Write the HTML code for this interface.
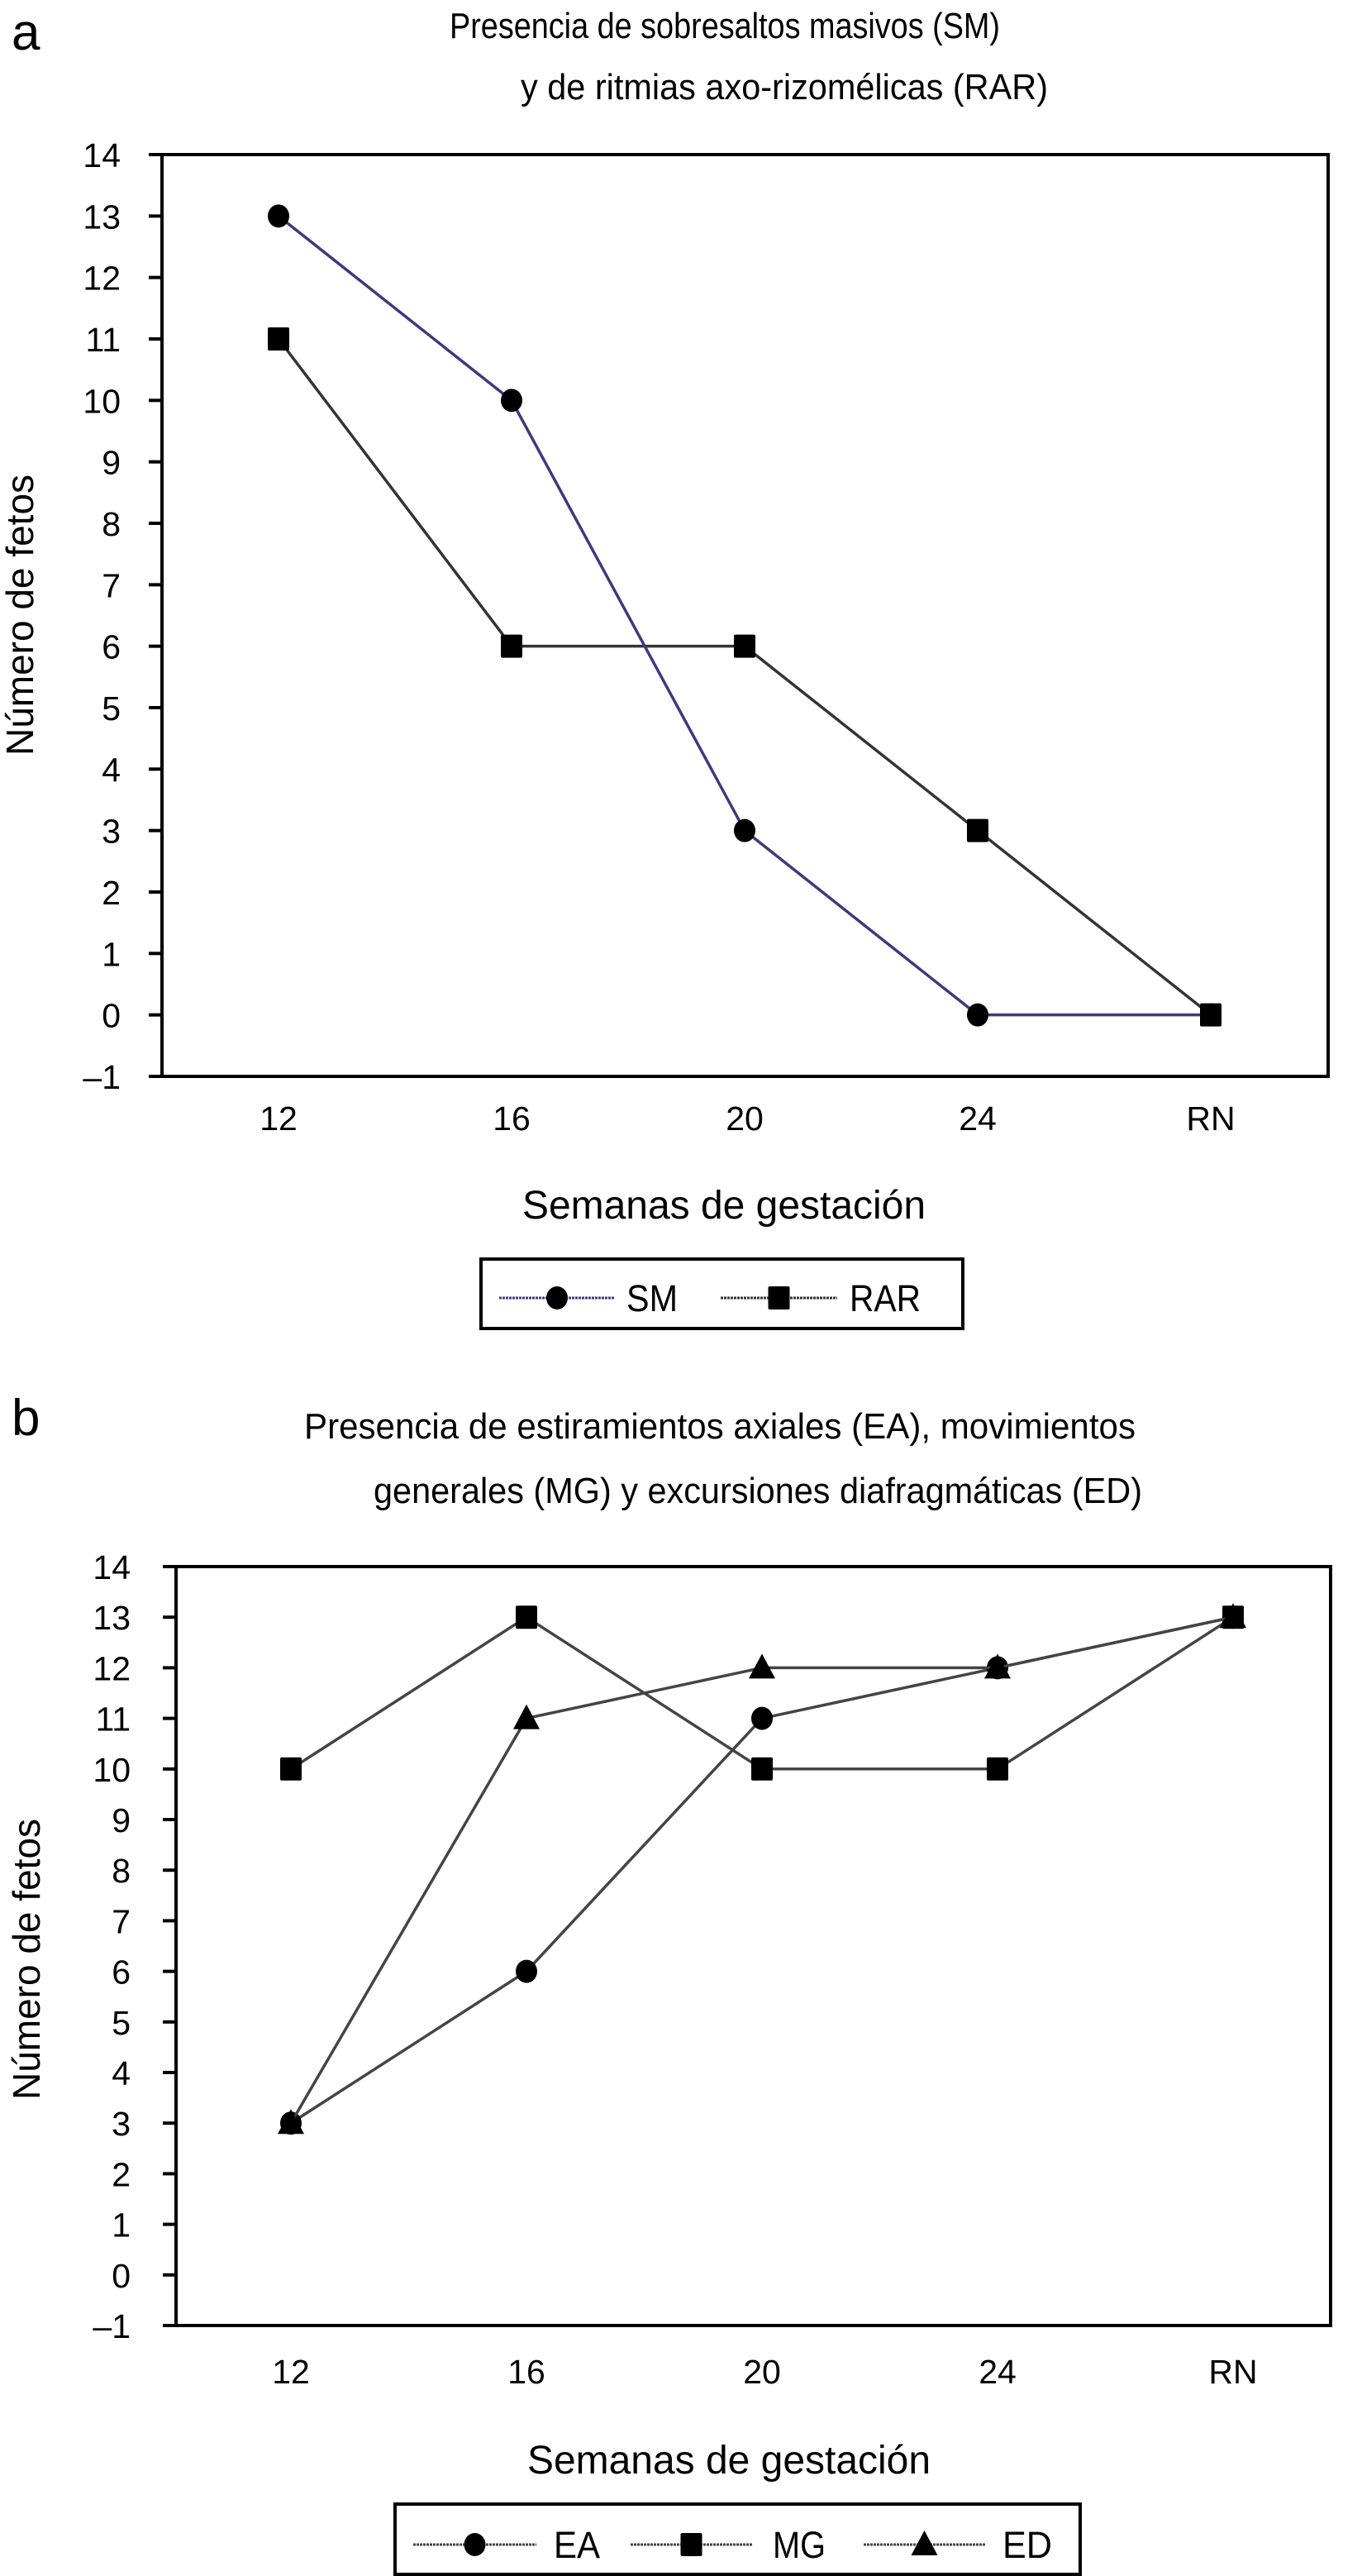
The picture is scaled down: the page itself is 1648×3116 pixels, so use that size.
<!DOCTYPE html>
<html><head><meta charset="utf-8"><style>
html,body{margin:0;padding:0;background:#fff}
svg{display:block}
text{font-family:"Liberation Sans",sans-serif;fill:#000}
</style></head><body>
<svg id="s" width="1648" height="3116" viewBox="0 0 1648 3116" xmlns="http://www.w3.org/2000/svg">
<text x="14" y="60" font-size="62">a</text>
<text x="544" y="46" font-size="44" textLength="666" lengthAdjust="spacingAndGlyphs">Presencia de sobresaltos masivos (SM)</text>
<text x="630" y="120" font-size="44" textLength="638" lengthAdjust="spacingAndGlyphs">y de ritmias axo-rizomélicas (RAR)</text>
<text x="14" y="1736" font-size="62">b</text>
<text x="368" y="1740" font-size="44" textLength="1006" lengthAdjust="spacingAndGlyphs">Presencia de estiramientos axiales (EA), movimientos</text>
<text x="452" y="1818" font-size="44" textLength="930" lengthAdjust="spacingAndGlyphs">generales (MG) y excursiones diafragmáticas (ED)</text>
<g id="ga"></g><g id="gb"></g>
</svg>
<script>
const categories = ["12","16","20","24","RN"];
const yTicks = [14,13,12,11,10,9,8,7,6,5,4,3,2,1,0,-1];
const smValues = [13,10,3,0,0];
const rarValues = [11,6,6,3,0];
const eaValues = [3,6,11,12,13];
const mgValues = [10,13,10,10,13];
const edValues = [3,11,12,12,13];

const NS="http://www.w3.org/2000/svg";
function mk(parent,tag,attrs){const e=document.createElementNS(NS,tag);for(const k in attrs)e.setAttribute(k,attrs[k]);parent.appendChild(e);return e;}

function drawChart(g,cfg){
  const yS=v=>cfg.top+(14-v)*(cfg.bottom-cfg.top)/15;
  const xS=i=>cfg.x0+i*cfg.step;
  const box=mk(g,'rect',{x:cfg.left,y:cfg.top,width:cfg.right-cfg.left,height:cfg.bottom-cfg.top,fill:'none',stroke:'#000','stroke-width':4});
  
  
  yTicks.forEach(v=>{
    const t=mk(g,'line',{x1:cfg.left-16,x2:cfg.left,y1:yS(v),y2:yS(v),stroke:'#000','stroke-width':4});
    
    
    const l=mk(g,'text',{x:cfg.labelRight,y:yS(v)+15,'font-size':41,'text-anchor':'end'});
    l.textContent=v<0?'\u2013'+(-v):String(v);
    
    
  });
  categories.forEach((c,i)=>{
    const l=mk(g,'text',{x:xS(i),y:cfg.xLabelY,'font-size':41,'text-anchor':'middle'});
    l.textContent=c;
    
    
  });
  const xt=mk(g,'text',{x:cfg.xTitleX-244,y:cfg.xTitleY,'font-size':48,textLength:488,lengthAdjust:'spacingAndGlyphs'});
  xt.textContent='Semanas de gestación';
  
  
  const yt=mk(g,'text',{x:0,y:0,'font-size':46,'text-anchor':'middle',transform:`translate(${cfg.yTitleX},${cfg.yTitleY}) rotate(-90)`});
  yt.textContent='Número de fetos';
  
  
  cfg.series.forEach(s=>{
    const pts=s.values.map((v,i)=>xS(i)+','+yS(v)).join(' ');
    const pl=mk(g,'polyline',{points:pts,fill:'none',stroke:s.color,'stroke-width':3.5});
    
    
    s.values.forEach((v,i)=>{
      const m=marker(g,s.shape,xS(i),yS(v));
      
      
    });
  });
}
function marker(g,shape,x,y){
  if(shape==='circle')return mk(g,'ellipse',{cx:x,cy:y,rx:13,ry:14,fill:'#000'});
  if(shape==='square')return mk(g,'rect',{x:x-13,y:y-14,width:26,height:28,fill:'#000',rx:2});
  return mk(g,'polygon',{points:`${x},${y-17} ${x-16},${y+13} ${x+16},${y+13}`,fill:'#000'});
}
function legend(g,cfg){
  const b=mk(g,'rect',{x:cfg.x,y:cfg.y,width:cfg.w,height:cfg.h,fill:'#fff',stroke:'#000','stroke-width':4});
  
  
  cfg.items.forEach(it=>{
    const ln=mk(g,'line',{x1:it.x1,x2:it.x2,y1:cfg.cy,y2:cfg.cy,stroke:it.color,'stroke-width':3,'stroke-dasharray':'3 1'});
    
    
    const m=marker(g,it.shape,(it.x1+it.x2)/2,cfg.cy);
    
    
    const t=mk(g,'text',{x:it.tx,y:cfg.cy+16,'font-size':45,textLength:it.tl,lengthAdjust:'spacingAndGlyphs'});
    t.textContent=it.label;
    
    
  });
}
const ga=document.getElementById('ga'), gb=document.getElementById('gb');
drawChart(ga,{left:196,right:1607,top:187,bottom:1302,x0:337,step:282,labelRight:146,xLabelY:1367,xTitleX:876,xTitleY:1474,yTitleX:40,yTitleY:744,
  series:[{name:'rar',values:rarValues,color:'#333',shape:'square'},{name:'sm',values:smValues,color:'#3c3a7c',shape:'circle'}]});
legend(ga,{x:582,y:1523,w:583,h:84,cy:1570,items:[
  {x1:604,x2:744,color:'#3c3a7c',shape:'circle',tx:758,tl:62,label:'SM'},
  {x1:872,x2:1013,color:'#333',shape:'square',tx:1028,tl:86,label:'RAR'}]});
drawChart(gb,{left:213,right:1610,top:1895,bottom:2813,x0:352,step:285,labelRight:158,xLabelY:2883,xTitleX:882,xTitleY:2992,yTitleX:48,yTitleY:2370,
  series:[{name:'ea',values:eaValues,color:'#444',shape:'circle'},{name:'mg',values:mgValues,color:'#444',shape:'square'},{name:'ed',values:edValues,color:'#444',shape:'triangle'}]});
legend(gb,{x:478,y:3029,w:829,h:85,cy:3078,items:[
  {x1:500,x2:649,color:'#444',shape:'circle',tx:670,tl:56,label:'EA'},
  {x1:763,x2:910,color:'#444',shape:'square',tx:935,tl:64,label:'MG'},
  {x1:1045,x2:1192,color:'#444',shape:'triangle',tx:1213,tl:60,label:'ED'}]});
</script>
</body></html>
